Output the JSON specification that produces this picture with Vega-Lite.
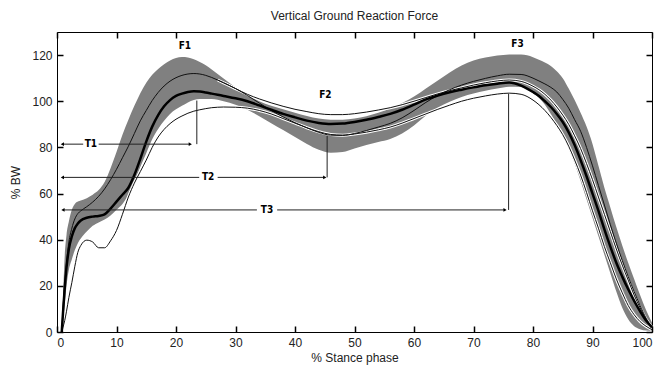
{
  "$schema": "https://vega.github.io/schema/vega-lite/v6.json",
  "autosize": "none",
  "width": 595,
  "height": 300,
  "padding": {"left": 57, "top": 32, "right": 11, "bottom": 35},
  "background": "white",
  "title": {"text": "Vertical Ground Reaction Force", "fontSize": 12, "font": "Liberation Sans", "fontWeight": "normal", "color": "#222", "offset": 8},
  "config": {
    "view": {"stroke": "black", "strokeWidth": 1},
    "axis": {"grid": false, "labelFont": "Liberation Sans", "labelFontSize": 12, "labelColor": "#222", "titleFont": "Liberation Sans", "titleFontSize": 12, "titleFontWeight": "normal", "titleColor": "#222"}
  },
  "datasets": {
    "curves": [
      {"x": 0.8, "hi": 0, "lo": 0, "mean": 0, "ctrl": 0, "up": null, "low": 0},
      {"x": 1.0, "hi": 14, "lo": 4, "mean": 8, "ctrl": 10, "up": null, "low": 2},
      {"x": 1.3, "hi": 33, "lo": 12, "mean": 19, "ctrl": 21, "up": null, "low": 5},
      {"x": 1.6, "hi": 42, "lo": 20, "mean": 28, "ctrl": 30, "up": null, "low": 9},
      {"x": 2.0, "hi": 48, "lo": 27, "mean": 36, "ctrl": 39, "up": null, "low": 15},
      {"x": 2.5, "hi": 53, "lo": 31.5, "mean": 41.5, "ctrl": 45, "up": null, "low": 21.5},
      {"x": 3.0, "hi": 55.5, "lo": 35.5, "mean": 45, "ctrl": 49, "up": null, "low": 28.5},
      {"x": 3.5, "hi": 56.5, "lo": 38.5, "mean": 47, "ctrl": 51.3, "up": null, "low": 34.5},
      {"x": 4, "hi": 57, "lo": 40.5, "mean": 48.3, "ctrl": 52.5, "up": null, "low": 37.5},
      {"x": 5, "hi": 58, "lo": 43.5, "mean": 49.5, "ctrl": 54.3, "up": null, "low": 39.8},
      {"x": 6, "hi": 59.5, "lo": 46, "mean": 50, "ctrl": 56.3, "up": null, "low": 39},
      {"x": 7, "hi": 61.5, "lo": 47.5, "mean": 50.3, "ctrl": 58.8, "up": null, "low": 36.5},
      {"x": 8, "hi": 65, "lo": 48.8, "mean": 51, "ctrl": 62, "up": null, "low": 36.5},
      {"x": 9, "hi": 71, "lo": 50.5, "mean": 53.5, "ctrl": 66, "up": null, "low": 39.5},
      {"x": 10, "hi": 78, "lo": 53, "mean": 56.5, "ctrl": 70.5, "up": null, "low": 44},
      {"x": 11, "hi": 85.5, "lo": 55.5, "mean": 59.5, "ctrl": 75.5, "up": null, "low": 51},
      {"x": 12, "hi": 92, "lo": 59.5, "mean": 62.5, "ctrl": 80.5, "up": null, "low": 58.5},
      {"x": 13, "hi": 98, "lo": 65, "mean": 68, "ctrl": 86, "up": null, "low": 64.5},
      {"x": 14, "hi": 103.5, "lo": 71.5, "mean": 75, "ctrl": 91.5, "up": null, "low": 69.5},
      {"x": 15, "hi": 108, "lo": 77.5, "mean": 82.5, "ctrl": 96, "up": null, "low": 74.5},
      {"x": 16, "hi": 111.5, "lo": 83.5, "mean": 89, "ctrl": 100.3, "up": null, "low": 80},
      {"x": 17, "hi": 114, "lo": 88, "mean": 94, "ctrl": 103.8, "up": null, "low": 84.5},
      {"x": 18, "hi": 116, "lo": 91.5, "mean": 97.8, "ctrl": 106.6, "up": null, "low": 87.8},
      {"x": 19, "hi": 117.6, "lo": 94.5, "mean": 100.5, "ctrl": 108.7, "up": null, "low": 90.3},
      {"x": 20, "hi": 118.7, "lo": 96.5, "mean": 102.3, "ctrl": 110.2, "up": null, "low": 92.2},
      {"x": 21, "hi": 119.2, "lo": 98, "mean": 103.3, "ctrl": 111.2, "up": null, "low": 93.6},
      {"x": 22, "hi": 119, "lo": 99.5, "mean": 104, "ctrl": 111.8, "up": null, "low": 94.8},
      {"x": 23, "hi": 118.2, "lo": 100.5, "mean": 104.3, "ctrl": 112, "up": null, "low": 95.7},
      {"x": 24, "hi": 117, "lo": 101, "mean": 104.2, "ctrl": 111.8, "up": null, "low": 96.3},
      {"x": 25, "hi": 115.6, "lo": 101, "mean": 103.8, "ctrl": 111.2, "up": null, "low": 96.8},
      {"x": 26, "hi": 113.8, "lo": 101, "mean": 103.3, "ctrl": 110.3, "up": null, "low": 97.2},
      {"x": 27, "hi": 111.8, "lo": 100.6, "mean": 102.8, "ctrl": 109.2, "up": 109.2, "low": 97.4},
      {"x": 28, "hi": 109.8, "lo": 100, "mean": 102.3, "ctrl": 108, "up": 108, "low": 97.5},
      {"x": 30, "hi": 106, "lo": 98.5, "mean": 101.3, "ctrl": 105.5, "up": 105.5, "low": 97.4},
      {"x": 32, "hi": 102.5, "lo": 96.3, "mean": 100, "ctrl": 102.5, "up": 103, "low": 97},
      {"x": 34, "hi": 100, "lo": 93.5, "mean": 98.2, "ctrl": 99.2, "up": 101, "low": 96},
      {"x": 36, "hi": 98, "lo": 90.5, "mean": 96.3, "ctrl": 96, "up": 99.3, "low": 94.5},
      {"x": 38, "hi": 96.5, "lo": 87.5, "mean": 94.5, "ctrl": 93.2, "up": 97.8, "low": 92.5},
      {"x": 40, "hi": 95, "lo": 84.5, "mean": 93, "ctrl": 90.7, "up": 96.5, "low": 90.5},
      {"x": 42, "hi": 93.6, "lo": 81.5, "mean": 91.6, "ctrl": 88.5, "up": 95.5, "low": 88.5},
      {"x": 44, "hi": 92.5, "lo": 79, "mean": 90.6, "ctrl": 86.5, "up": 94.6, "low": 86.8},
      {"x": 46, "hi": 92, "lo": 77.7, "mean": 90.1, "ctrl": 85.3, "up": 94.2, "low": 85.6},
      {"x": 48, "hi": 92, "lo": 78, "mean": 90.3, "ctrl": 85.2, "up": 94.2, "low": 85.3},
      {"x": 50, "hi": 92.5, "lo": 79.5, "mean": 91, "ctrl": 86, "up": 94.6, "low": 85.8},
      {"x": 52, "hi": 93.5, "lo": 81, "mean": 92, "ctrl": 87.3, "up": 95.3, "low": 86.6},
      {"x": 54, "hi": 95, "lo": 82.3, "mean": 93.2, "ctrl": 88.8, "up": 96.2, "low": 87.6},
      {"x": 56, "hi": 96.8, "lo": 83.6, "mean": 94.5, "ctrl": 90.4, "up": 97.2, "low": 88.8},
      {"x": 58, "hi": 99.2, "lo": 86, "mean": 96.3, "ctrl": 92.8, "up": 98.5, "low": 90.5},
      {"x": 60, "hi": 102, "lo": 89.5, "mean": 98.5, "ctrl": 96, "up": 100, "low": 92.5},
      {"x": 62, "hi": 105.5, "lo": 93.8, "mean": 100.8, "ctrl": 99.5, "up": 101.6, "low": 94.5},
      {"x": 64, "hi": 109, "lo": 97.3, "mean": 102.5, "ctrl": 102.5, "up": 103.2, "low": 96.5},
      {"x": 66, "hi": 112.5, "lo": 99.8, "mean": 103.9, "ctrl": 105, "up": 104.6, "low": 98.3},
      {"x": 68, "hi": 115.5, "lo": 101.8, "mean": 105, "ctrl": 107, "up": 105.8, "low": 100},
      {"x": 70, "hi": 117.6, "lo": 103.3, "mean": 106, "ctrl": 108.6, "up": 107, "low": 101.3},
      {"x": 72, "hi": 118.9, "lo": 104.5, "mean": 106.9, "ctrl": 109.9, "up": 108, "low": 102.3},
      {"x": 74, "hi": 119.8, "lo": 105.5, "mean": 107.6, "ctrl": 111, "up": 108.8, "low": 103.1},
      {"x": 76, "hi": 120.3, "lo": 106.3, "mean": 108.1, "ctrl": 111.7, "up": 109.2, "low": 103.5},
      {"x": 78, "hi": 120.2, "lo": 106.2, "mean": 106.8, "ctrl": 111.6, "up": 108.6, "low": 103},
      {"x": 80, "hi": 119.1, "lo": 103.5, "mean": 104, "ctrl": 110, "up": 106.5, "low": 100.5},
      {"x": 81, "hi": 118, "lo": 101.5, "mean": 102.3, "ctrl": 108.8, "up": 105, "low": 98.5},
      {"x": 82, "hi": 116.8, "lo": 98.5, "mean": 100, "ctrl": 107.5, "up": 103, "low": 96},
      {"x": 83, "hi": 115.3, "lo": 94.5, "mean": 97.5, "ctrl": 106, "up": 100.5, "low": 93},
      {"x": 84, "hi": 113, "lo": 90, "mean": 94.5, "ctrl": 104, "up": 97.5, "low": 89.5},
      {"x": 85, "hi": 110, "lo": 85, "mean": 91, "ctrl": 100.8, "up": 94, "low": 85.5},
      {"x": 86, "hi": 105.5, "lo": 79.5, "mean": 86.5, "ctrl": 97, "up": 90, "low": 80.5},
      {"x": 87, "hi": 100.5, "lo": 73, "mean": 81, "ctrl": 92, "up": 85, "low": 74.5},
      {"x": 88, "hi": 95, "lo": 65.5, "mean": 74.5, "ctrl": 87, "up": 79.5, "low": 68},
      {"x": 89, "hi": 89, "lo": 57.5, "mean": 67.5, "ctrl": 80, "up": 73, "low": 60.5},
      {"x": 90, "hi": 81.5, "lo": 49.5, "mean": 60, "ctrl": 72, "up": 66, "low": 52.5},
      {"x": 91, "hi": 72, "lo": 41.5, "mean": 52.5, "ctrl": 63.5, "up": 58.5, "low": 45},
      {"x": 92, "hi": 62.5, "lo": 33.5, "mean": 44.5, "ctrl": 55, "up": 51, "low": 37},
      {"x": 93, "hi": 54, "lo": 25.5, "mean": 37, "ctrl": 46.5, "up": 43.5, "low": 30},
      {"x": 94, "hi": 45.5, "lo": 17.5, "mean": 30, "ctrl": 38.5, "up": 36, "low": 23},
      {"x": 95, "hi": 37.5, "lo": 10.5, "mean": 24, "ctrl": 31, "up": 29, "low": 17},
      {"x": 96, "hi": 30, "lo": 5.5, "mean": 18.5, "ctrl": 24, "up": 22.5, "low": 11.5},
      {"x": 97, "hi": 23, "lo": 2.5, "mean": 13.5, "ctrl": 17.5, "up": 16, "low": 7.5},
      {"x": 98, "hi": 16, "lo": 1.2, "mean": 9, "ctrl": 11.5, "up": 10.5, "low": 4.5},
      {"x": 99, "hi": 9.5, "lo": 0.6, "mean": 5, "ctrl": 6, "up": 5.5, "low": 2.5},
      {"x": 100, "hi": 4, "lo": 0.5, "mean": 2, "ctrl": 2, "up": 2, "low": 1}
    ],
    "segments": [
      {"x": 0.9, "x2": 4.4, "y": 81.4, "y2": 81.4},
      {"x": 7.0, "x2": 22.3, "y": 81.4, "y2": 81.4},
      {"x": 0.9, "x2": 23.9, "y": 67, "y2": 67},
      {"x": 27.0, "x2": 44.9, "y": 67, "y2": 67},
      {"x": 1.0, "x2": 33.6, "y": 52.9, "y2": 52.9},
      {"x": 37.0, "x2": 75.2, "y": 52.9, "y2": 52.9},
      {"x": 23.5, "x2": 23.5, "y": 81.4, "y2": 100.3},
      {"x": 45.4, "x2": 45.4, "y": 67, "y2": 85},
      {"x": 75.9, "x2": 75.9, "y": 52.9, "y2": 103.2}
    ],
    "heads": [
      {"x": 0.9, "y": 81.4, "s": "triangle-left"},
      {"x": 22.4, "y": 81.4, "s": "triangle-right"},
      {"x": 0.9, "y": 67, "s": "triangle-left"},
      {"x": 45.0, "y": 67, "s": "triangle-right"},
      {"x": 1.0, "y": 52.9, "s": "triangle-left"},
      {"x": 75.3, "y": 52.9, "s": "triangle-right"}
    ],
    "labels": [
      {"x": 21.5, "y": 124, "t": "F1"},
      {"x": 45.1, "y": 102.5, "t": "F2"},
      {"x": 77.4, "y": 124.7, "t": "F3"},
      {"x": 5.7, "y": 81.4, "t": "T1"},
      {"x": 25.4, "y": 67, "t": "T2"},
      {"x": 35.3, "y": 52.9, "t": "T3"}
    ]
  },
  "resolve": {"axis": {"x": "independent", "y": "independent"}},
  "layer": [
    {
      "data": {"name": "curves"},
      "mark": {"type": "point", "opacity": 0},
      "encoding": {
        "x": {"field": "x", "type": "quantitative", "scale": {"domain": [0, 100], "nice": false},
              "axis": {"values": [0,10,20,30,40,50,60,70,80,90,100], "ticks": true, "tickSize": 6, "tickWidth": 1.5, "tickColor": "#000", "offset": -6, "zindex": 1, "domain": false, "title": "% Stance phase", "labelPadding": 5, "titleY": 26, "titleBaseline": "top"}},
        "y": {"field": "mean", "type": "quantitative", "scale": {"domain": [0, 130], "nice": false},
              "axis": {"values": [0,20,40,60,80,100,120], "ticks": true, "tickSize": 6, "tickWidth": 1.5, "tickColor": "#000", "offset": -6, "zindex": 1, "domain": false, "title": "% BW", "labelPadding": 5, "titleX": -48, "titleY": 150, "titleBaseline": "middle"}}
      }
    },
    {
      "data": {"name": "curves"},
      "mark": {"type": "point", "opacity": 0},
      "encoding": {
        "x": {"field": "x", "type": "quantitative", "scale": {"domain": [0, 100], "nice": false},
              "axis": {"orient": "top", "values": [0,10,20,30,40,50,60,70,80,90,100], "ticks": true, "tickSize": 6, "tickWidth": 1.5, "tickColor": "#000", "offset": -6, "zindex": 1, "domain": false, "labels": false, "title": null}},
        "y": {"field": "mean", "type": "quantitative", "scale": {"domain": [0, 130], "nice": false},
              "axis": {"orient": "right", "values": [0,20,40,60,80,100,120], "ticks": true, "tickSize": 6, "tickWidth": 1.5, "tickColor": "#000", "offset": -6, "zindex": 1, "domain": false, "labels": false, "title": null}}
      }
    },
    {
      "data": {"name": "curves"},
      "mark": {"type": "area", "color": "#808080", "interpolate": "monotone"},
      "encoding": {
        "x": {"field": "x", "type": "quantitative", "scale": {"domain": [0, 100], "nice": false}, "axis": null},
        "y": {"field": "lo", "type": "quantitative", "scale": {"domain": [0, 130], "nice": false}, "axis": null},
        "y2": {"field": "hi"}
      }
    },
    {
      "data": {"name": "curves"},
      "mark": {"type": "line", "color": "white", "strokeWidth": 3, "interpolate": "monotone"},
      "encoding": {
        "x": {"field": "x", "type": "quantitative", "scale": {"domain": [0, 100], "nice": false}, "axis": null},
        "y": {"field": "low", "type": "quantitative", "scale": {"domain": [0, 130], "nice": false}, "axis": null}
      }
    },
    {
      "data": {"name": "curves"},
      "mark": {"type": "line", "color": "white", "strokeWidth": 3, "interpolate": "monotone"},
      "encoding": {
        "x": {"field": "x", "type": "quantitative", "scale": {"domain": [0, 100], "nice": false}, "axis": null},
        "y": {"field": "up", "type": "quantitative", "scale": {"domain": [0, 130], "nice": false}, "axis": null}
      }
    },
    {
      "data": {"name": "curves"},
      "mark": {"type": "line", "color": "#111", "strokeWidth": 1, "interpolate": "monotone"},
      "encoding": {
        "x": {"field": "x", "type": "quantitative", "scale": {"domain": [0, 100], "nice": false}, "axis": null},
        "y": {"field": "ctrl", "type": "quantitative", "scale": {"domain": [0, 130], "nice": false}, "axis": null}
      }
    },
    {
      "data": {"name": "curves"},
      "mark": {"type": "line", "color": "#111", "strokeWidth": 1, "interpolate": "monotone"},
      "encoding": {
        "x": {"field": "x", "type": "quantitative", "scale": {"domain": [0, 100], "nice": false}, "axis": null},
        "y": {"field": "low", "type": "quantitative", "scale": {"domain": [0, 130], "nice": false}, "axis": null}
      }
    },
    {
      "data": {"name": "curves"},
      "mark": {"type": "line", "color": "#111", "strokeWidth": 1, "interpolate": "monotone"},
      "encoding": {
        "x": {"field": "x", "type": "quantitative", "scale": {"domain": [0, 100], "nice": false}, "axis": null},
        "y": {"field": "up", "type": "quantitative", "scale": {"domain": [0, 130], "nice": false}, "axis": null}
      }
    },
    {
      "data": {"name": "curves"},
      "mark": {"type": "line", "color": "black", "strokeWidth": 2.5, "interpolate": "monotone"},
      "encoding": {
        "x": {"field": "x", "type": "quantitative", "scale": {"domain": [0, 100], "nice": false}, "axis": null},
        "y": {"field": "mean", "type": "quantitative", "scale": {"domain": [0, 130], "nice": false}, "axis": null}
      }
    },
    {
      "data": {"name": "segments"},
      "mark": {"type": "rule", "color": "#222", "strokeWidth": 1},
      "encoding": {
        "x": {"field": "x", "type": "quantitative", "scale": {"domain": [0, 100], "nice": false}, "axis": null},
        "x2": {"field": "x2"},
        "y": {"field": "y", "type": "quantitative", "scale": {"domain": [0, 130], "nice": false}, "axis": null},
        "y2": {"field": "y2"}
      }
    },
    {
      "data": {"name": "heads"},
      "mark": {"type": "point", "filled": true, "color": "black", "size": 14, "opacity": 1},
      "encoding": {
        "x": {"field": "x", "type": "quantitative", "scale": {"domain": [0, 100], "nice": false}, "axis": null},
        "y": {"field": "y", "type": "quantitative", "scale": {"domain": [0, 130], "nice": false}, "axis": null},
        "shape": {"field": "s", "type": "nominal", "scale": null, "legend": null}
      }
    },
    {
      "data": {"name": "labels"},
      "mark": {"type": "text", "font": "Liberation Sans Narrow, DejaVu Sans Condensed, sans-serif", "fontWeight": "bold", "fontSize": 10, "color": "black", "align": "center", "baseline": "middle"},
      "encoding": {
        "x": {"field": "x", "type": "quantitative", "scale": {"domain": [0, 100], "nice": false}, "axis": null},
        "y": {"field": "y", "type": "quantitative", "scale": {"domain": [0, 130], "nice": false}, "axis": null},
        "text": {"field": "t"}
      }
    }
  ]
}
